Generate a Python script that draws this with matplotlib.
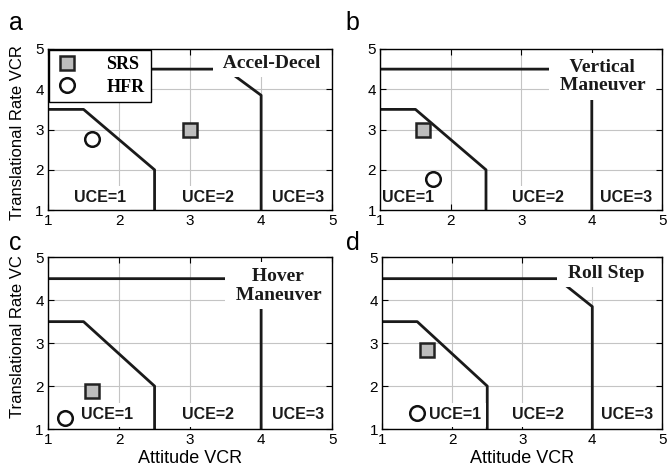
import matplotlib
matplotlib.use('Agg')
import matplotlib.pyplot as plt

# boundary curves (same in every panel)
inner_x = [1, 1.5, 2.5, 2.5]
inner_y = [3.5, 3.5, 2.0, 1.0]
outer_x = [1, 3.5, 4.0, 4.0]
outer_y = [4.5, 4.5, 3.85, 1.0]

panel_letters = ['a', 'b', 'c', 'd']
titles = ['Accel-Decel', 'Vertical\nManeuver', 'Hover\nManeuver', 'Roll Step']
uce_labels = ['UCE=1', 'UCE=2', 'UCE=3']

# SRS (square) and HFR (circle) ratings per panel
srs_x = [3.0, 1.60, 1.62, 1.64]
srs_y = [3.0, 3.00, 1.88, 2.84]
hfr_x = [1.62, 1.75, 1.24, 1.49]
hfr_y = [2.76, 1.76, 1.26, 1.37]

ticks = [1, 2, 3, 4, 5]

# layout: axes rectangles, text anchors
axes_rects = [[0.072, 0.554, 0.426, 0.342],
              [0.570, 0.554, 0.423, 0.342],
              [0.072, 0.089, 0.426, 0.365],
              [0.573, 0.089, 0.420, 0.365]]
title_pos = [(4.15, 4.65), (4.15, 4.31), (4.24, 4.33), (4.2, 4.63)]
uce_pos = [[(1.73, 1.3), (3.25, 1.3), (4.52, 1.3)],
           [(1.40, 1.3), (3.24, 1.3), (4.49, 1.3)],
           [(1.83, 1.33), (3.25, 1.33), (4.52, 1.33)],
           [(2.04, 1.33), (3.23, 1.33), (4.49, 1.33)]]
letter_pos = [(0.014, 0.936), (0.518, 0.936), (0.014, 0.470), (0.518, 0.470)]

sans = 'Liberation Sans'
serif = 'Liberation Serif'
plt.rcParams['font.family'] = sans

fig = plt.figure(figsize=(6.67, 4.71), dpi=100)

for i in range(4):
    ax = fig.add_axes(axes_rects[i])
    ax.set_xlim(1, 5)
    ax.set_ylim(1, 5)
    ax.set_xticks(ticks)
    ax.set_yticks(ticks)
    ax.tick_params(direction='in', top=True, right=True, length=4,
                   labelsize=11, width=0.8, pad=3)
    ax.grid(True, color='#c4c4c4', lw=0.8)
    ax.set_axisbelow(True)
    for sp in ax.spines.values():
        sp.set_zorder(10)
        sp.set_linewidth(1.0)

    ax.plot(inner_x, inner_y, color='#1a1a1a', lw=2.0, zorder=3)
    ax.plot(outer_x, outer_y, color='#1a1a1a', lw=2.0, zorder=3)

    # pad the title horizontally with a space so the white box hides the corner
    padded = '\n'.join(' ' + s + ' ' for s in titles[i].split('\n'))
    ax.text(title_pos[i][0], title_pos[i][1], padded, ha='center', va='center',
            family=serif, fontweight='bold', fontsize=14, color='#1a1a1a',
            bbox=dict(boxstyle='square,pad=0.3', fc='white', ec='none'),
            zorder=4, clip_on=True, linespacing=1.1)
    for lab, (ux, uy) in zip(uce_labels, uce_pos[i]):
        ax.text(ux, uy, lab, ha='center', va='center', family=sans,
                fontweight='bold', fontsize=11.5, color='#1a1a1a',
                bbox=dict(boxstyle='square,pad=0.3', fc='white', ec='none'),
                zorder=4, clip_on=True)

    ax.plot(srs_x[i], srs_y[i], 's', ms=9.5, mfc='#bdbdbd', mec='#222222',
            mew=1.8, zorder=6, label='SRS', clip_on=False)
    ax.plot(hfr_x[i], hfr_y[i], 'o', ms=10.5, mfc='white', mec='#111111',
            mew=1.8, zorder=6, label='HFR', clip_on=False)

    if i == 0:
        leg = ax.legend(loc='upper left', bbox_to_anchor=(0.005, 0.995),
                        borderaxespad=0, fancybox=False, framealpha=1,
                        edgecolor='black', handlelength=1.2,
                        handletextpad=1.6, borderpad=0.35, labelspacing=0.3,
                        prop=dict(family=serif, weight='bold', size=13))
        leg.get_frame().set_linewidth(1.0)
        leg.set_zorder(8)
    if i >= 2:
        ax.set_xlabel('Attitude VCR', fontsize=13, labelpad=2)

    fig.text(letter_pos[i][0], letter_pos[i][1], panel_letters[i],
             fontsize=18, ha='left', va='baseline')

fig.text(0.026, 0.533, 'Translational Rate VCR', rotation=90, fontsize=12,
         ha='center', va='bottom')
fig.text(0.026, 0.113, 'Translational Rate VC', rotation=90, fontsize=12,
         ha='center', va='bottom')

fig.savefig('out.png', dpi=100)
